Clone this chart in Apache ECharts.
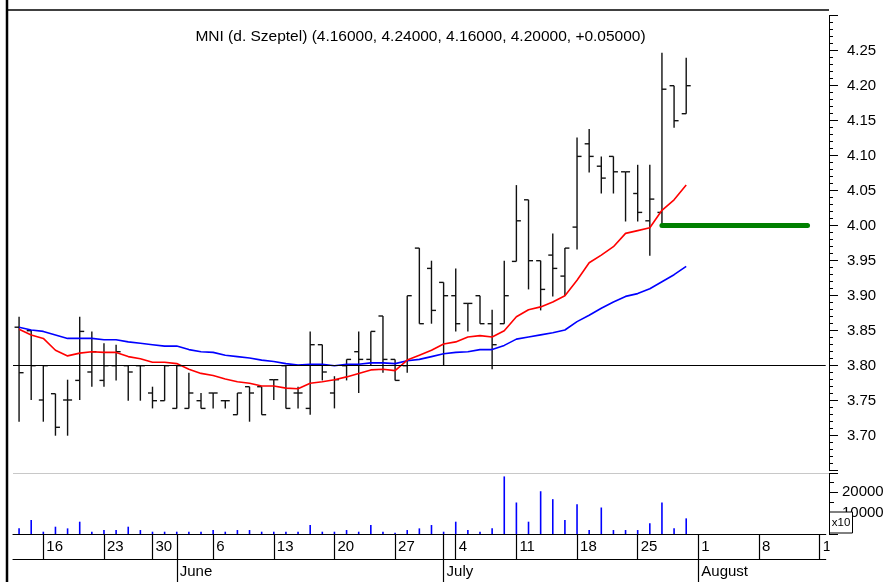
<!DOCTYPE html>
<html><head><meta charset="utf-8">
<script src="https://cdn.jsdelivr.net/npm/echarts@6/dist/echarts.min.js"></script>
<style>html,body{margin:0;padding:0;background:#fff}#c{width:889px;height:582px}</style>
</head><body><div id="c"></div>
<script>
// ---- data ----
const dates = [
 '2011-05-12','2011-05-13','2011-05-16','2011-05-17','2011-05-18','2011-05-19','2011-05-20',
 '2011-05-23','2011-05-24','2011-05-25','2011-05-26',
 '2011-05-30','2011-05-31','2011-06-01','2011-06-02','2011-06-03',
 '2011-06-06','2011-06-07','2011-06-08','2011-06-09','2011-06-10',
 '2011-06-13','2011-06-14','2011-06-15','2011-06-16','2011-06-17',
 '2011-06-20','2011-06-21','2011-06-22','2011-06-23','2011-06-24',
 '2011-06-27','2011-06-28','2011-06-29','2011-06-30','2011-07-01',
 '2011-07-04','2011-07-05','2011-07-06','2011-07-07','2011-07-08',
 '2011-07-11','2011-07-12','2011-07-13','2011-07-14','2011-07-15',
 '2011-07-18','2011-07-19','2011-07-20','2011-07-21','2011-07-22',
 '2011-07-25','2011-07-26','2011-07-27','2011-07-28','2011-07-29',
 '2011-08-01','2011-08-02','2011-08-03','2011-08-04','2011-08-05',
 '2011-08-08','2011-08-09','2011-08-10','2011-08-11','2011-08-12',
 '2011-08-15'
];
const opens = [3.855,3.850,3.751,3.760,3.751,3.779,3.791,3.779,3.800,3.800,3.800,3.761,3.750,3.739,3.739,3.750,
 3.761,3.750,3.730,3.770,3.770,3.780,3.800,3.761,3.739,3.830,3.761,3.800,3.820,3.809,3.871,3.809,3.800,3.968,
 3.939,3.919,3.900,3.889,3.900,3.860,3.860,3.949,4.037,3.950,3.958,3.928,3.998,4.117,4.085,4.099,4.077,4.046,
 4.007,4.019,4.200,4.160];
const highs = [3.870,3.851,3.800,3.760,3.780,3.870,3.849,3.832,3.830,3.800,3.800,3.770,3.800,3.800,3.790,3.761,
 3.761,3.751,3.761,3.770,3.770,3.780,3.800,3.770,3.849,3.830,3.785,3.809,3.849,3.849,3.871,3.809,3.900,3.968,
 3.950,3.919,3.939,3.889,3.900,3.880,3.950,4.058,4.037,3.950,3.989,3.968,4.126,4.138,4.099,4.099,4.077,4.087,
 4.087,4.247,4.200,4.240];
const lows = [3.720,3.751,3.720,3.700,3.700,3.751,3.770,3.770,3.779,3.750,3.750,3.739,3.750,3.739,3.739,3.739,
 3.739,3.739,3.730,3.720,3.730,3.751,3.739,3.739,3.730,3.779,3.739,3.779,3.761,3.800,3.790,3.779,3.790,3.860,
 3.860,3.800,3.849,3.849,3.860,3.795,3.860,3.949,3.909,3.879,3.899,3.900,3.966,4.076,4.046,4.046,4.006,4.006,
 3.957,3.999,4.140,4.160];
const closes = [3.790,3.800,3.800,3.712,3.751,3.849,3.820,3.800,3.820,3.791,3.800,3.750,3.800,3.800,3.761,3.739,
 3.761,3.750,3.761,3.761,3.730,3.780,3.739,3.761,3.830,3.791,3.780,3.809,3.809,3.849,3.809,3.779,3.900,3.860,
 3.879,3.900,3.860,3.889,3.860,3.830,3.900,4.007,3.950,3.909,3.939,3.968,4.099,4.099,4.068,4.077,4.077,4.019,
 4.038,4.195,4.150,4.200];
const volumes = [2700,6700,1100,3500,2700,5900,1100,1900,1900,3500,1900,1100,1100,1100,1100,1100,
 1900,1100,1900,1900,1100,1100,1100,1100,4300,1100,1100,1900,1100,4300,1100,600,1900,2700,
 4300,1100,5900,1900,1100,2700,27600,15100,5900,20500,16700,6700,14300,1900,12700,1900,1900,1900,
 5100,15100,2700,7500];
const maRed = [3.852,3.844,3.839,3.822,3.814,3.818,3.820,3.819,3.819,3.813,3.810,3.805,3.805,3.803,3.795,3.789,
 3.786,3.781,3.777,3.775,3.771,3.771,3.768,3.767,3.775,3.777,3.780,3.784,3.789,3.794,3.795,3.793,3.808,3.815,
 3.822,3.831,3.834,3.841,3.843,3.841,3.850,3.870,3.880,3.884,3.891,3.900,3.922,3.947,3.958,3.970,3.989,3.993,
 3.997,4.022,4.037,4.058];
const maBlue = [3.855,3.851,3.849,3.844,3.839,3.839,3.839,3.837,3.837,3.834,3.832,3.830,3.828,3.828,3.823,3.820,
 3.819,3.815,3.813,3.811,3.808,3.806,3.803,3.801,3.802,3.802,3.800,3.802,3.802,3.804,3.804,3.803,3.807,3.809,
 3.813,3.817,3.819,3.820,3.823,3.823,3.829,3.838,3.841,3.844,3.847,3.851,3.863,3.872,3.882,3.891,3.899,3.903,
 3.910,3.920,3.930,3.942];
const refLevel = 3.80;
const targetLevel = 4.00;
const targetFrom = '2011-07-27', targetTo = '2011-08-12';
const volumeLabels = [10000, 20000];
const monthNames = ['January','February','March','April','May','June','July','August','September','October','November','December'];
const titleText = 'MNI (d. Szeptel) (4.16000, 4.24000, 4.16000, 4.20000, +0.05000)';
const volUnit = 'x10';

// ---- helpers ----
const FONT = '"Liberation Sans", Arial, sans-serif';
const dow = d => new Date(d + 'T00:00:00Z').getUTCDay();
const mon = d => parseInt(d.slice(5,7),10);
const isWeekStart = i => dow(dates[i]) === 1;
const isMonthStart = i => i > 0 && mon(dates[i]) !== mon(dates[i-1]);
const ohlc = opens.map((o,i) => [i, o, highs[i], lows[i], closes[i]]);

const chart = echarts.init(document.getElementById('c'), null, {renderer:'canvas'});
const GL = 13, GR = 63.3, YOFF = 3.3;
const axisX = 889 - GR + YOFF;

chart.setOption({
  animation: false,
  backgroundColor: '#fff',
  grid: [
    {left: GL, right: GR, top: 15.7, height: 455},
    {left: GL, right: GR, top: 473.5, height: 60.5}
  ],
  xAxis: [
    {type:'category', gridIndex:0, data:dates, show:false, boundaryGap:true},
    {type:'category', gridIndex:1, data:dates, position:'bottom', boundaryGap:true,
     axisLine:{show:true, lineStyle:{color:'#000', width:1.2}},
     axisTick:{show:true, alignWithLabel:true, interval:(i)=>isWeekStart(i)||isMonthStart(i), length:25, lineStyle:{color:'#000', width:1.2}},
     axisLabel:{show:true, interval:(i)=>isWeekStart(i), formatter:(v)=>String(parseInt(v.slice(8),10)),
       align:'left', margin:5, padding:[0,0,0,3], fontSize:15, color:'#000', fontFamily:FONT},
     splitLine:{show:false}},
    {type:'category', gridIndex:1, data:dates, position:'bottom', offset:25, boundaryGap:true,
     axisLine:{show:true, lineStyle:{color:'#000', width:1.2}},
     axisTick:{show:true, alignWithLabel:true, interval:(i)=>isMonthStart(i), length:24, lineStyle:{color:'#000', width:1.2}},
     axisLabel:{show:true, interval:(i)=>isMonthStart(i), formatter:(v)=>monthNames[mon(v)-1],
       align:'left', margin:5, padding:[0,0,0,3], fontSize:15, color:'#000', fontFamily:FONT},
     splitLine:{show:false}}
  ],
  yAxis: [
    {type:'value', gridIndex:0, position:'right', offset:YOFF, min:3.65, max:4.30, interval:0.05,
     axisLine:{show:true, lineStyle:{color:'#000', width:1}},
     axisTick:{show:true, length:9, lineStyle:{color:'#000', width:1}},
     minorTick:{show:true, splitNumber:5, length:4, lineStyle:{color:'#000', width:1}},
     axisLabel:{formatter:v=>v.toFixed(2), margin:18, fontSize:15, color:'#000', fontFamily:FONT, showMinLabel:false, showMaxLabel:false},
     splitLine:{show:false}},
    {type:'value', gridIndex:1, position:'right', offset:YOFF, min:0, max:29000, interval:10000,
     axisLine:{show:true, lineStyle:{color:'#000', width:1}},
     axisTick:{show:true, length:9, lineStyle:{color:'#000', width:1}},
     minorTick:{show:true, splitNumber:2, length:5, lineStyle:{color:'#000', width:1}},
     axisLabel:{formatter:v=> volumeLabels.indexOf(v) >= 0 ? String(v) : '', margin:13, fontSize:15, color:'#000', fontFamily:FONT,
       showMinLabel:false, showMaxLabel:false},
     splitLine:{show:false}}
  ],
  series: [
    {type:'custom', xAxisIndex:0, yAxisIndex:0, data:ohlc, encode:{x:0, y:[1,2,3,4]}, z:3, silent:true,
     renderItem: function(params, api){
       const x = api.value(0);
       const o = api.coord([x, api.value(1)]);
       const h = api.coord([x, api.value(2)]);
       const l = api.coord([x, api.value(3)]);
       const c = api.coord([x, api.value(4)]);
       const t = 4.5, st = {stroke:'#111', lineWidth:1.4};
       return {type:'group', children:[
         {type:'line', shape:{x1:h[0], y1:h[1], x2:l[0], y2:l[1]}, style:st},
         {type:'line', shape:{x1:o[0]-t, y1:o[1], x2:o[0], y2:o[1]}, style:st},
         {type:'line', shape:{x1:c[0], y1:c[1], x2:c[0]+t, y2:c[1]}, style:st}
       ]};
     }},
    {type:'line', xAxisIndex:0, yAxisIndex:0, data:maBlue, showSymbol:false, symbol:'none', z:4, silent:true,
     lineStyle:{color:'#0000ff', width:1.6}},
    {type:'line', xAxisIndex:0, yAxisIndex:0, data:maRed, showSymbol:false, symbol:'none', z:4, silent:true,
     lineStyle:{color:'#ff0000', width:1.6},
     markLine:{silent:true, symbol:['none','none'], label:{show:false}, animation:false,
       data:[
         {yAxis:refLevel, lineStyle:{color:'#000', width:1.2, type:'solid'}},
         [{coord:[targetFrom, targetLevel]}, {coord:[targetTo, targetLevel], lineStyle:{color:'#008000', width:5, type:'solid', cap:'round'}}]
       ]}},
    {type:'bar', xAxisIndex:1, yAxisIndex:1, data:volumes, barWidth:1.6, silent:true,
     itemStyle:{color:'#0000ff'}}
  ],
  graphic: [
    {type:'text', x:420.5, y:37, z:50, style:{text:titleText, fontSize:15.5, fontFamily:FONT, fill:'#000', textAlign:'center', textVerticalAlign:'middle'}},
    {type:'line', z:50, shape:{x1:7, y1:0, x2:7, y2:582}, style:{stroke:'#000', lineWidth:2.5}},
    {type:'line', z:50, shape:{x1:7, y1:10, x2:axisX, y2:10}, style:{stroke:'#000', lineWidth:1.5}},
    {type:'line', z:50, shape:{x1:GL, y1:473.5, x2:axisX, y2:473.5}, style:{stroke:'#c8c8c8', lineWidth:1}},
    {type:'rect', z:60, shape:{x:axisX+0.5, y:512, width:23, height:21}, style:{fill:'#fff', stroke:'#000', lineWidth:1}},
    {type:'text', z:61, x:axisX+12, y:522.5, style:{text:volUnit, fontSize:11.5, fontFamily:FONT, fill:'#000', textAlign:'center', textVerticalAlign:'middle'}},
    {type:'rect', z:60, shape:{x:axisX+0.6, y:535.5, width:70, height:50}, style:{fill:'#fff'}}
  ]
});
</script></body></html>
